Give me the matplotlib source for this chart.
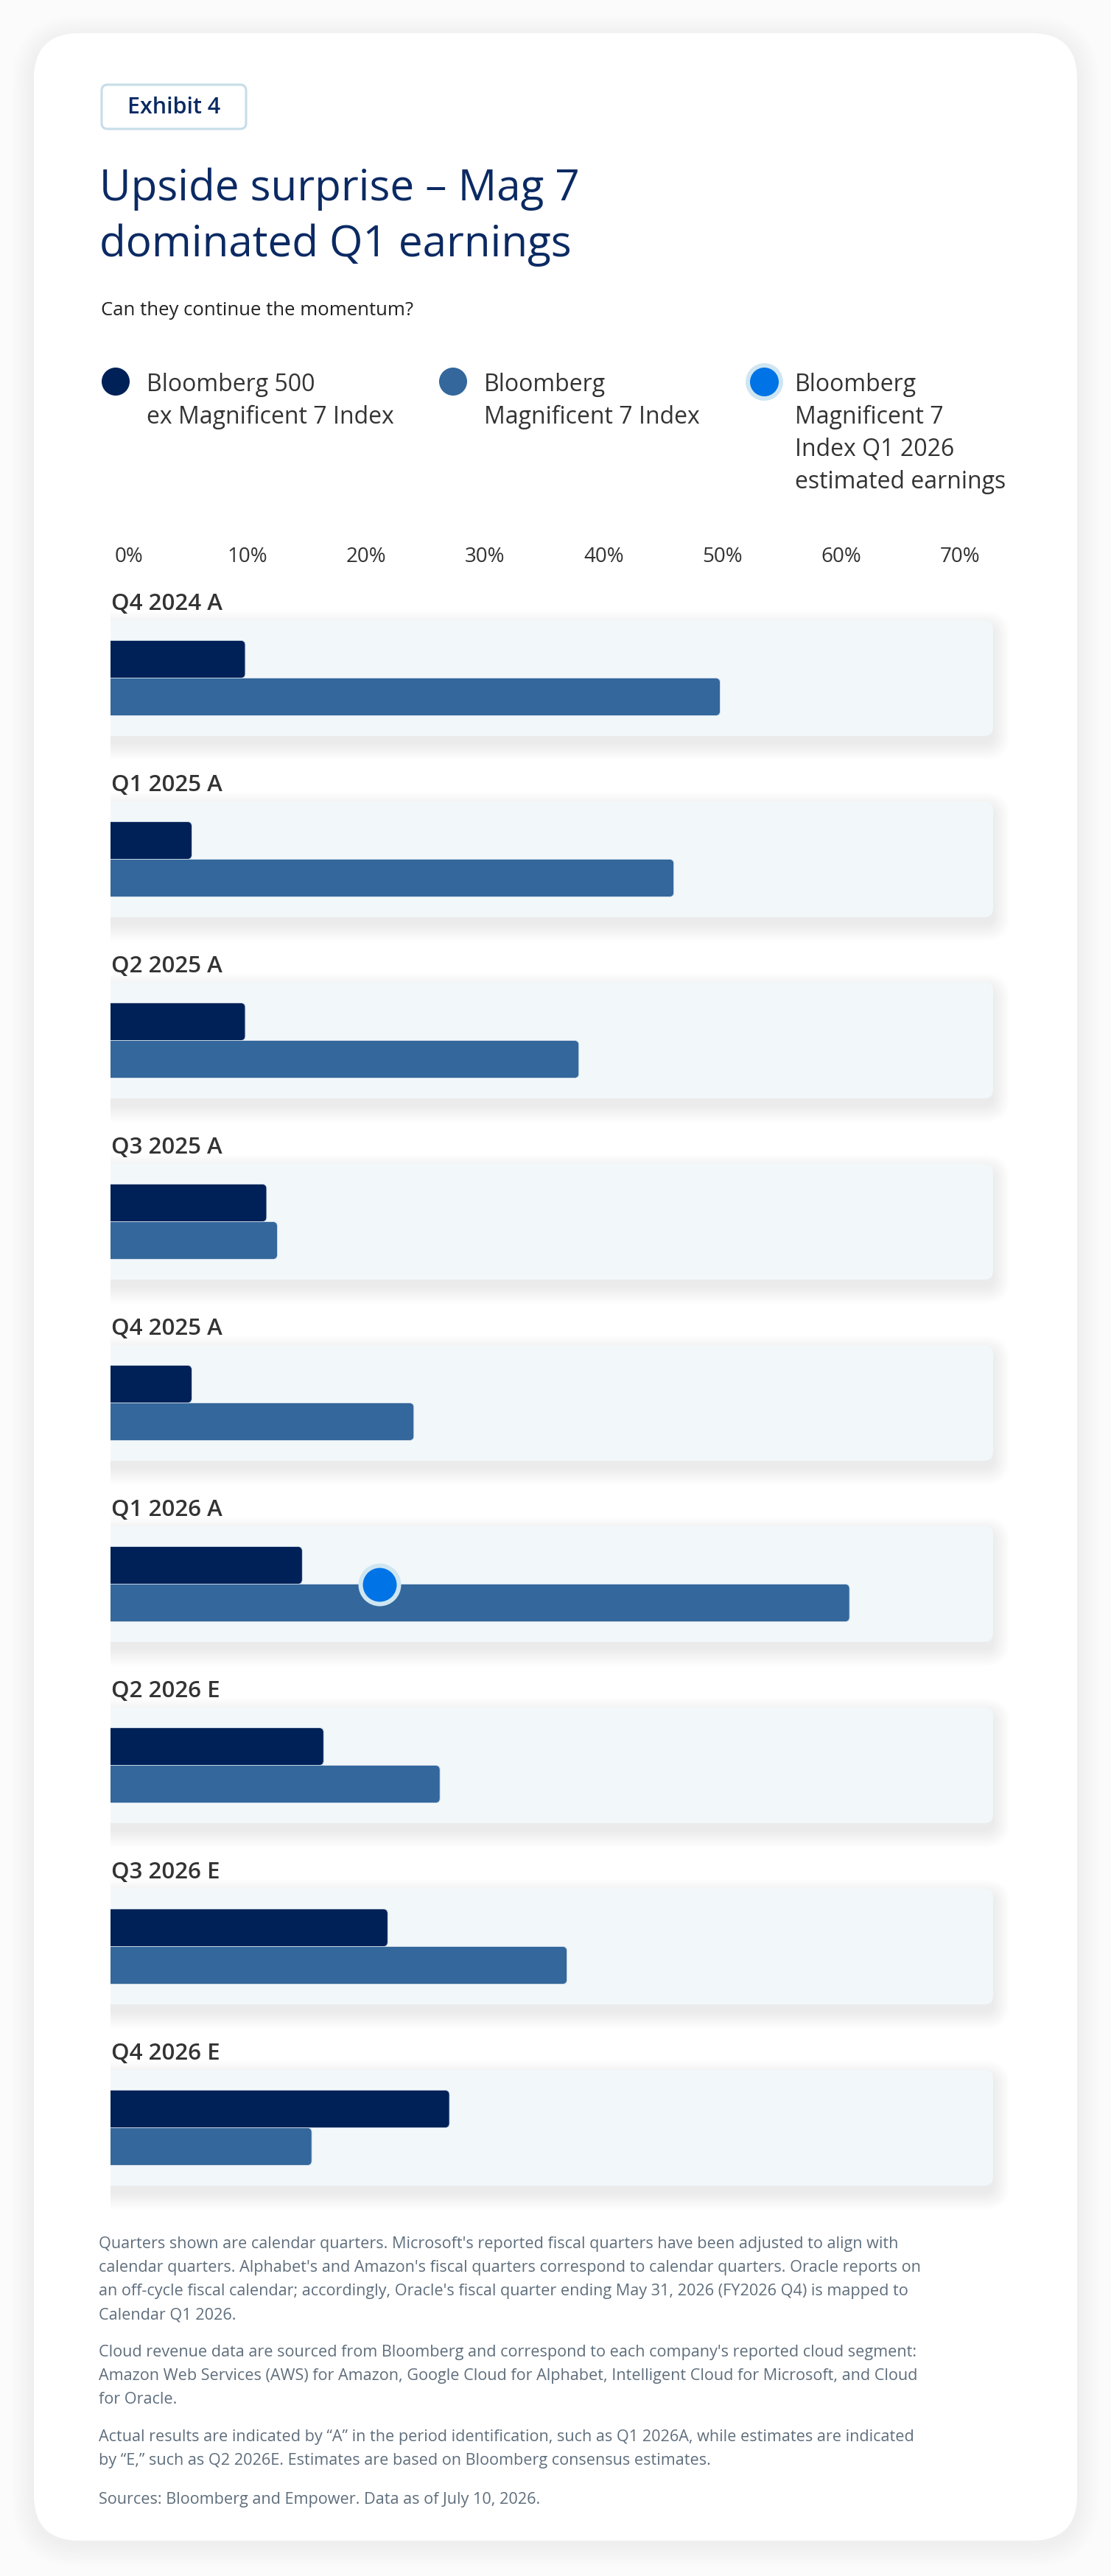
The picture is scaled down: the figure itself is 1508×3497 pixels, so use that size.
import matplotlib
matplotlib.use("Agg")
import matplotlib.pyplot as plt
from matplotlib.patches import FancyBboxPatch
import numpy as np

plt.rcParams['font.family'] = ['Open Sans', 'DejaVu Sans']

# data
quarters = ["Q4 2024 A", "Q1 2025 A", "Q2 2025 A", "Q3 2025 A", "Q4 2025 A",
            "Q1 2026 A", "Q2 2026 E", "Q3 2026 E", "Q4 2026 E"]
ex_mag7 = [9.8, 5.3, 9.8, 11.6, 5.3, 14.6, 16.4, 21.8, 27.0]
mag7 = [49.8, 45.9, 37.9, 12.5, 24.0, 60.7, 26.2, 36.9, 15.4]
est_quarter = "Q1 2026 A"
est_value = 21.1
tick_vals = [0, 10, 20, 30, 40, 50, 60, 70]
tick_labels = ["0%", "10%", "20%", "30%", "40%", "50%", "60%", "70%"]
legend_labels = ["Bloomberg 500\nex Magnificent 7 Index",
                 "Bloomberg\nMagnificent 7 Index",
                 "Bloomberg\nMagnificent 7\nIndex Q1 2026\nestimated earnings"]
notes = [
    ["Quarters shown are calendar quarters. Microsoft's reported fiscal quarters have been adjusted to align with",
     "calendar quarters. Alphabet's and Amazon's fiscal quarters correspond to calendar quarters. Oracle reports on",
     "an off-cycle fiscal calendar; accordingly, Oracle's fiscal quarter ending May 31, 2026 (FY2026 Q4) is mapped to",
     "Calendar Q1 2026."],
    ["Cloud revenue data are sourced from Bloomberg and correspond to each company's reported cloud segment:",
     "Amazon Web Services (AWS) for Amazon, Google Cloud for Alphabet, Intelligent Cloud for Microsoft, and Cloud",
     "for Oracle."],
    ["Actual results are indicated by \u201cA\u201d in the period identification, such as Q1 2026A, while estimates are indicated",
     "by \u201cE,\u201d such as Q2 2026E. Estimates are based on Bloomberg consensus estimates."],
    ["Sources: Bloomberg and Empower. Data as of July 10, 2026."],
]

NAVY = "#002157"
MID = "#34679b"
BRIGHT = "#0073e6"
HALO = "#cfe6f2"
PANEL = "#f2f7fa"
TITLE = "#0b2a63"

W, H = 1508, 3498
fig = plt.figure(figsize=(W / 100, H / 100), dpi=100)
fig.patch.set_facecolor("#fbfbfb")

# background axes in pixel units
bg = fig.add_axes([0, 0, 1, 1])
bg.set_xlim(0, W)
bg.set_ylim(H, 0)
bg.axis("off")

# card with soft shadow
cx0, cy0, cx1, cy1 = 46, 46, 1462, 3450
for k in range(12):
    g = 2 + k * 2.5
    bg.add_patch(FancyBboxPatch((cx0 - g, cy0 - g + 6), cx1 - cx0 + 2 * g, cy1 - cy0 + 2 * g,
                                boxstyle="round,pad=0,rounding_size=%d" % (62 + g),
                                fc="black", ec="none", alpha=0.005))
bg.add_patch(FancyBboxPatch((cx0, cy0), cx1 - cx0, cy1 - cy0,
                            boxstyle="round,pad=0,rounding_size=62", fc="white", ec="none"))

# exhibit tag
bg.add_patch(FancyBboxPatch((138, 116), 196, 60, boxstyle="round,pad=0,rounding_size=8",
                            fc="white", ec="#c6dde8", lw=2.2))
bg.text(236, 146, "Exhibit 4", fontsize=22, color=TITLE, weight="semibold",
        ha="center", va="center")

# title and subtitle
bg.text(135, 272, "Upside surprise \u2013 Mag 7", fontsize=42, color=TITLE, va="baseline")
bg.text(135, 348, "dominated Q1 earnings", fontsize=42, color=TITLE, va="baseline")
bg.text(137, 428, "Can they continue the momentum?", fontsize=18.5, color="#222222", va="baseline")

# legend
leg_x = [157, 615, 1037]
leg_colors = [NAVY, MID, BRIGHT]
for i, (lx, lab, col) in enumerate(zip(leg_x, legend_labels, leg_colors)):
    if i == 2:
        bg.scatter([lx], [519], s=1050, color=col, edgecolors=HALO, linewidths=4.3, zorder=3)
    else:
        bg.scatter([lx], [519], s=750, color=col, edgecolors="none", zorder=3)
    for j, line in enumerate(lab.split("\n")):
        bg.text(lx + 42, 531 + 44 * j, line, fontsize=23, color="#333333", va="baseline")

# footnotes
fy = [3047, 3194, 3309, 3394]
for para, y0 in zip(notes, fy):
    for j, line in enumerate(para):
        bg.text(134, y0 + 32 * j, line, fontsize=15.6, color="#5f6e7c", va="center")

# main chart axes
px0, px1 = 150, 1370          # pixel extent of the axes
ptop, pbot = 830, 3010
x_at = lambda p: (p - 175) / 16.114
row_h = 246.0
ax = fig.add_axes([px0 / W, 1 - pbot / H, (px1 - px0) / W, (pbot - ptop) / H])
ax.set_facecolor("none")
n = len(quarters)
y = np.arange(n)
ax.set_xlim(x_at(px0), x_at(px1))
ax.set_ylim(n - 1 + (pbot - 921.5 - (n - 1) * row_h) / row_h, -(921.5 - ptop) / row_h)
for s in ax.spines.values():
    s.set_visible(False)

xu = 16.114
asp = xu / row_h
panel_end = x_at(1348)
half = 78.5 / row_h
# panel shadows and panels
for yi in y:
    for k in range(10):
        g = 1 + k * 2.4
        ax.add_patch(FancyBboxPatch((x_at(px0) - 5, yi - half - g / row_h + 10 / row_h),
                                    panel_end - x_at(px0) + 5 + g / xu, 2 * half + 2 * g / row_h,
                                    boxstyle="round,pad=0,rounding_size=%f" % ((12 + g) / xu),
                                    mutation_aspect=asp, fc="black", ec="none",
                                    alpha=0.0065, zorder=1))
    ax.add_patch(FancyBboxPatch((x_at(px0) - 5, yi - half), panel_end - x_at(px0) + 5, 2 * half,
                                boxstyle="round,pad=0,rounding_size=%f" % (12 / xu),
                                mutation_aspect=asp, fc=PANEL, ec="none", zorder=2))

bh = 51 / row_h
left = x_at(px0) - 1
b1 = ax.barh(y - bh / 2, np.array(ex_mag7) - left, left=left, height=bh, color=NAVY)
b2 = ax.barh(y + bh / 2, np.array(mag7) - left, left=left, height=bh, color=MID)
# swap the plain bars for rounded ones of the same extent
for bars, col in [(b1, NAVY), (b2, MID)]:
    for b in bars:
        ax.add_patch(FancyBboxPatch((b.get_x(), b.get_y()), b.get_width(), b.get_height(),
                                    boxstyle="round,pad=0,rounding_size=%f" % (6 / xu),
                                    mutation_aspect=asp, fc=col, ec="#d5e1ec", lw=0.6,
                                    zorder=3))
        b.remove()

ei = quarters.index(est_quarter)
ax.scatter([est_value], [ei], s=1400, color=BRIGHT, edgecolors=HALO, linewidths=4.3, zorder=5)

for yi, q in zip(y, quarters):
    ax.text(x_at(151), yi - 93.5 / row_h, q, fontsize=22.5, weight="semibold", color="#333333",
            va="baseline", ha="left", clip_on=False)

ax.set_yticks([])
ax.set_xticks(tick_vals)
ax.set_xticklabels(tick_labels)
ax.xaxis.tick_top()
ax.tick_params(axis="x", length=0, pad=43, labelsize=20, labelcolor="#333333")

fig.savefig("out.png", dpi=100, facecolor=fig.get_facecolor())
